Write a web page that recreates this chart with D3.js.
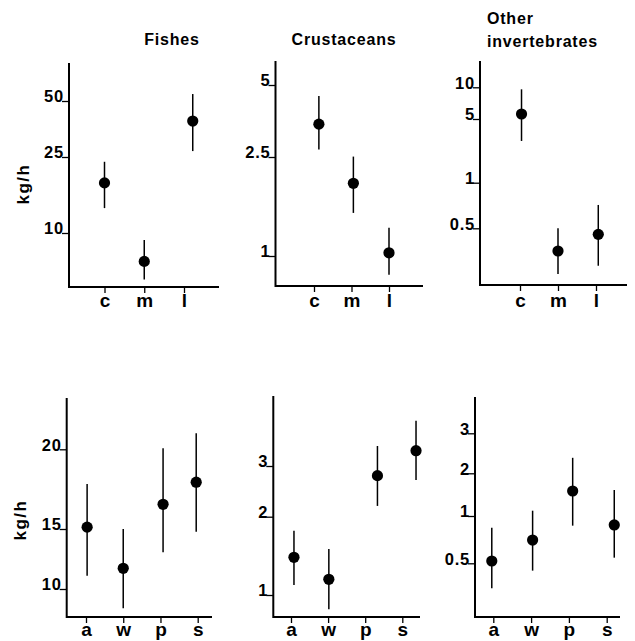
<!DOCTYPE html>
<html><head><meta charset="utf-8">
<script src="https://cdn.jsdelivr.net/npm/d3@7"></script>
<style>
body{margin:0;background:#fff}
svg{display:block}
text{font-family:"Liberation Sans",Arial,Helvetica,sans-serif;font-weight:bold;fill:#000}
</style>
</head><body>
<svg id="chart" width="635" height="641"></svg>
<script>
// ---- data ----
const titles = ["Fishes", "Crustaceans", "Other invertebrates"];
const areaCats = ["c", "m", "l"];
const seasonCats = ["a", "w", "p", "s"];
const yLabel = "kg/h";

// Fishes by area (kg/h): mean, lower, upper
const fishAreaMean = [18.3, 7.1, 39.0];
const fishAreaLo   = [13.5, 5.7, 26.9];
const fishAreaHi   = [23.6, 9.2, 54.5];
const fishAreaTicks = [10, 25, 50];
const fishAreaTickLabels = ["10", "25", "50"];

// Crustaceans by area
const crustAreaMean = [3.43, 1.96, 1.03];
const crustAreaLo   = [2.69, 1.49, 0.84];
const crustAreaHi   = [4.50, 2.51, 1.30];
const crustAreaTicks = [1, 2.5, 5];
const crustAreaTickLabels = ["1", "2.5", "5"];

// Other invertebrates by area
const invAreaMean = [5.58, 0.354, 0.456];
const invAreaLo   = [2.87, 0.25, 0.283];
const invAreaHi   = [9.57, 0.50, 0.713];
const invAreaTicks = [0.5, 1, 5, 10];
const invAreaTickLabels = ["0.5", "1", "5", "10"];

// Fishes by season
const fishSeasonMean = [15.1, 11.5, 16.4, 17.76];
const fishSeasonLo   = [10.94, 8.78, 12.81, 14.73];
const fishSeasonHi   = [17.64, 15.0, 20.07, 21.2];
const fishSeasonTicks = [10, 15, 20];
const fishSeasonTickLabels = ["10", "15", "20"];

// Crustaceans by season
const crustSeasonMean = [1.396, 1.149, 2.777, 3.39];
const crustSeasonLo   = [1.093, 0.881, 2.18, 2.68];
const crustSeasonHi   = [1.766, 1.503, 3.52, 4.31];
const crustSeasonTicks = [1, 2, 3];
const crustSeasonTickLabels = ["1", "2", "3"];

// Other invertebrates by season
const invSeasonMean = [0.517, 0.703, 1.50, 0.877];
const invSeasonLo   = [0.347, 0.449, 0.868, 0.543];
const invSeasonHi   = [0.843, 1.09, 2.34, 1.525];
const invSeasonTicks = [0.5, 1, 2, 3];
const invSeasonTickLabels = ["0.5", "1", "2", "3"];

// ---- layout (positions only) ----
const panels = [
  {cats: areaCats, mean: fishAreaMean, lo: fishAreaLo, hi: fishAreaHi, ticks: fishAreaTicks, labels: fishAreaTickLabels,
   tickPos: [233, 157, 101], ax: 69, right: 219, top: 63, bottom: 287, x0: 104.5, x1: 184, shift: [0, 0, 0.22], catBase: 307},
  {cats: areaCats, mean: crustAreaMean, lo: crustAreaLo, hi: crustAreaHi, ticks: crustAreaTicks, labels: crustAreaTickLabels,
   tickPos: [256, 157, 85], ax: 275.5, right: 423, top: 61, bottom: 286, x0: 314, x1: 389, shift: [0.13, 0.05, 0], catBase: 307},
  {cats: areaCats, mean: invAreaMean, lo: invAreaLo, hi: invAreaHi, ticks: invAreaTicks, labels: invAreaTickLabels,
   tickPos: [228.3, 182.7, 119, 87.3], ax: 480, right: 627, top: 61, bottom: 285, x0: 520, x1: 596, shift: [0.04, 0, 0.06], catBase: 307},
  {cats: seasonCats, mean: fishSeasonMean, lo: fishSeasonLo, hi: fishSeasonHi, ticks: fishSeasonTicks, labels: fishSeasonTickLabels,
   tickPos: [589, 529, 449.3], ax: 66.7, right: 212, top: 398, bottom: 617, x0: 86, x1: 197.7, shift: [0.03, 0, 0.07, -0.04], catBase: 636},
  {cats: seasonCats, mean: crustSeasonMean, lo: crustSeasonLo, hi: crustSeasonHi, ticks: crustSeasonTicks, labels: crustSeasonTickLabels,
   tickPos: [595, 516.7, 466], ax: 273.3, right: 420, top: 396, bottom: 617, x0: 291, x1: 402.3, shift: [0.08, 0.02, 0.33, 0.37], catBase: 636},
  {cats: seasonCats, mean: invSeasonMean, lo: invSeasonLo, hi: invSeasonHi, ticks: invSeasonTicks, labels: invSeasonTickLabels,
   tickPos: [563.3, 516, 473.3, 433.3], ax: 475, right: 620, top: 397, bottom: 617, x0: 493.3, x1: 606.7, shift: [-0.04, 0.04, 0.1, 0.2], catBase: 636}
];

const svg = d3.select("#chart");

panels.forEach((p) => {
  const n = p.cats.length;
  const y = d3.scaleLog().domain(p.ticks).range(p.tickPos);
  const x = d3.scaleLinear().domain([0, n - 1]).range([p.x0, p.x1]);
  const g = svg.append("g");

  // axis lines
  g.append("path")
    .attr("d", `M${p.ax},${p.top}V${p.bottom}H${p.right}`)
    .attr("fill", "none").attr("stroke", "#000").attr("stroke-width", 2);

  // y axis ticks
  const yAxis = d3.axisLeft(y).tickValues(p.ticks).tickSize(7).tickPadding(2)
    .tickFormat((d, i) => p.labels[i]);
  const ya = g.append("g").attr("transform", `translate(${p.ax},0)`).call(yAxis);
  ya.attr("font-size", null).attr("font-family", null);
  ya.select(".domain").remove();
  ya.selectAll(".tick line").attr("stroke", "#000").attr("stroke-width", 1.3);
  ya.selectAll(".tick text").attr("dy", "0.05em").attr("x", -5)
    .style("font-size", "16.5px").style("letter-spacing", "0.8px");

  // x axis ticks
  const xAxis = d3.axisBottom(x).tickValues(d3.range(n)).tickSize(6)
    .tickFormat(i => p.cats[i]);
  const xa = g.append("g").attr("transform", `translate(0,${p.bottom})`).call(xAxis);
  xa.attr("font-size", null).attr("font-family", null);
  xa.select(".domain").remove();
  xa.selectAll(".tick line").attr("stroke", "#000").attr("stroke-width", 1.3);
  xa.selectAll(".tick text").attr("dy", null).attr("y", p.catBase - p.bottom)
    .style("font-size", "19px");

  // error bars
  g.selectAll(".err").data(p.mean).enter().append("line")
    .attr("x1", (d, i) => x(i + p.shift[i])).attr("x2", (d, i) => x(i + p.shift[i]))
    .attr("y1", (d, i) => y(p.lo[i])).attr("y2", (d, i) => y(p.hi[i]))
    .attr("stroke", "#000").attr("stroke-width", 1.5);

  // points
  g.selectAll(".pt").data(p.mean).enter().append("circle")
    .attr("cx", (d, i) => x(i + p.shift[i])).attr("cy", d => y(d))
    .attr("r", 5.6).attr("fill", "#000");
});

// titles
svg.append("text").attr("x", 172).attr("y", 45).attr("text-anchor", "middle")
  .style("font-size", "16px").style("letter-spacing", "0.8px").text(titles[0]);
svg.append("text").attr("x", 344).attr("y", 45).attr("text-anchor", "middle")
  .style("font-size", "16px").style("letter-spacing", "0.8px").text(titles[1]);
const t3 = svg.append("text").attr("x", 487).attr("y", 24)
  .style("font-size", "16px").style("letter-spacing", "0.8px");
t3.append("tspan").attr("x", 487).attr("y", 24).text(titles[2].split(" ")[0]);
t3.append("tspan").attr("x", 487).attr("y", 47).text(titles[2].split(" ")[1]);

// y labels
[[29, 184], [26, 520]].forEach(([lx, ly]) => {
  svg.append("text").attr("transform", `translate(${lx},${ly}) rotate(-90)`)
    .attr("text-anchor", "middle").style("font-size", "17px").style("letter-spacing", "1.5px")
    .text(yLabel);
});
</script>
</body></html>
